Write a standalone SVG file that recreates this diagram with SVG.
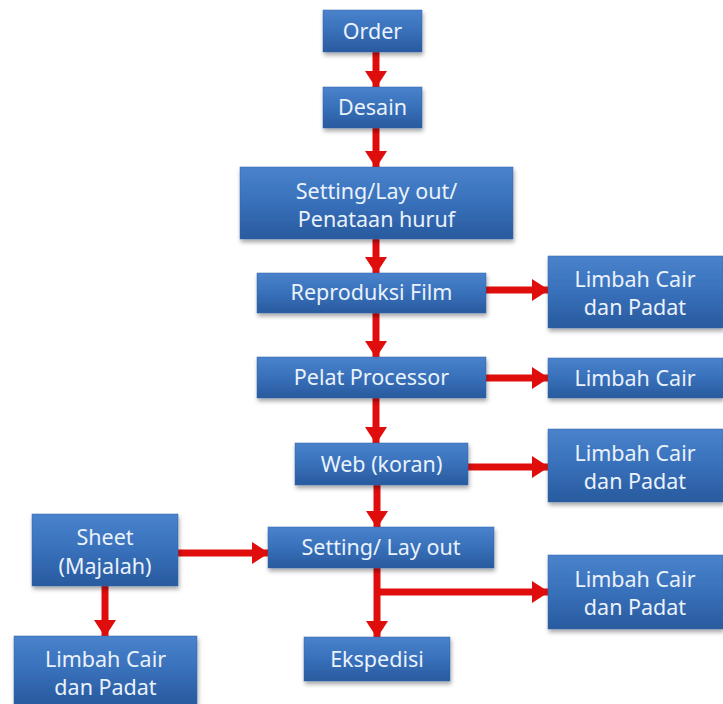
<svg xmlns="http://www.w3.org/2000/svg" width="723" height="704" viewBox="0 0 723 704">
<defs>
<linearGradient id="g" x1="0" y1="0" x2="0" y2="1">
<stop offset="0" stop-color="#4a82cc"/>
<stop offset="0.5" stop-color="#3870ba"/>
<stop offset="1" stop-color="#285a9e"/>
</linearGradient>
<filter id="sh" x="-10%" y="-10%" width="130%" height="140%">
<feDropShadow dx="1" dy="3" stdDeviation="2" flood-color="#000" flood-opacity="0.35"/>
</filter>
<marker id="ah" markerUnits="userSpaceOnUse" markerWidth="18" markerHeight="22" refX="16" refY="11" orient="auto">
<path d="M0,0 L17,11 L0,22 Z" fill="#e00d0d"/>
</marker>
</defs>
<style>
.box{fill:url(#g);filter:url(#sh);stroke:#3366a8;stroke-width:0.5}
.t{font-family:"Noto Sans","Liberation Sans",sans-serif;font-size:21.5px;fill:#eaf2fc;text-anchor:middle}
.c{stroke:#e00d0d;stroke-width:7;fill:none}
</style>
<rect width="723" height="704" fill="#ffffff"/>
<g id="connectors">
<line class="c" x1="376" y1="52" x2="376" y2="87" marker-end="url(#ah)"/>
<line class="c" x1="376" y1="128" x2="376" y2="167" marker-end="url(#ah)"/>
<line class="c" x1="376" y1="239" x2="376" y2="273" marker-end="url(#ah)"/>
<line class="c" x1="376" y1="313" x2="376" y2="357" marker-end="url(#ah)"/>
<line class="c" x1="376" y1="398" x2="376" y2="443" marker-end="url(#ah)"/>
<line class="c" x1="377" y1="485" x2="377" y2="527" marker-end="url(#ah)"/>
<line class="c" x1="377" y1="568" x2="377" y2="637" marker-end="url(#ah)"/>
<line class="c" x1="105" y1="586" x2="105" y2="636" marker-end="url(#ah)"/>
<line class="c" x1="486" y1="290" x2="548" y2="290" marker-end="url(#ah)"/>
<line class="c" x1="486" y1="378" x2="548" y2="378" marker-end="url(#ah)"/>
<line class="c" x1="468" y1="467" x2="548" y2="467" marker-end="url(#ah)"/>
<line class="c" x1="178" y1="553" x2="268" y2="553" marker-end="url(#ah)"/>
<line class="c" x1="377" y1="592" x2="548" y2="592" marker-end="url(#ah)"/>
</g>
<g id="order"><rect class="box" x="323" y="10" width="99" height="42"/><text class="t" x="372.5" y="39">Order</text></g>
<g id="desain"><rect class="box" x="323" y="87" width="99" height="41"/><text class="t" x="372.5" y="115">Desain</text></g>
<g id="setting1"><rect class="box" x="240" y="167" width="273" height="72"/><text class="t" x="376.5" y="199">Setting/Lay out/</text><text class="t" x="376.5" y="227">Penataan huruf</text></g>
<g id="reproduksi"><rect class="box" x="257" y="273" width="229" height="40"/><text class="t" x="371.5" y="300">Reproduksi Film</text></g>
<g id="limbah1"><rect class="box" x="548" y="256" width="175" height="72"/><text class="t" x="635" y="287">Limbah Cair</text><text class="t" x="635" y="315">dan Padat</text></g>
<g id="pelat"><rect class="box" x="257" y="357" width="229" height="41"/><text class="t" x="371.5" y="385">Pelat Processor</text></g>
<g id="limbahcair"><rect class="box" x="548" y="358" width="175" height="40"/><text class="t" x="635" y="386">Limbah Cair</text></g>
<g id="web"><rect class="box" x="295" y="443" width="173" height="42"/><text class="t" x="381.5" y="472">Web (koran)</text></g>
<g id="limbah2"><rect class="box" x="548" y="429" width="175" height="73"/><text class="t" x="635" y="461">Limbah Cair</text><text class="t" x="635" y="489">dan Padat</text></g>
<g id="sheet"><rect class="box" x="32" y="514" width="146" height="72"/><text class="t" x="105" y="545">Sheet</text><text class="t" x="105" y="574">(Majalah)</text></g>
<g id="setting2"><rect class="box" x="268" y="527" width="226" height="41"/><text class="t" x="381" y="555">Setting/ Lay out</text></g>
<g id="limbah4"><rect class="box" x="548" y="555" width="175" height="74"/><text class="t" x="635" y="587">Limbah Cair</text><text class="t" x="635" y="615">dan Padat</text></g>
<g id="ekspedisi"><rect class="box" x="304" y="637" width="146" height="44"/><text class="t" x="377" y="667">Ekspedisi</text></g>
<g id="limbah3"><rect class="box" x="14" y="636" width="183" height="68"/><text class="t" x="105.5" y="667">Limbah Cair</text><text class="t" x="105.5" y="695">dan Padat</text></g>
</svg>
